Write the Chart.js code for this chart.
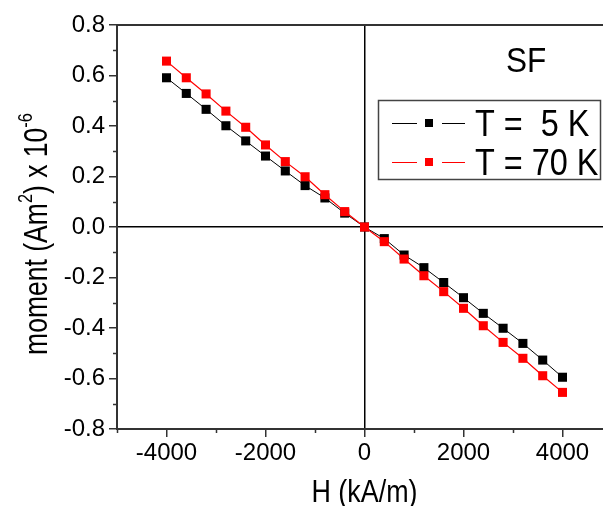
<!DOCTYPE html>
<html>
<head>
<meta charset="utf-8">
<script src="https://cdn.jsdelivr.net/npm/chart.js@4.4.1/dist/chart.umd.min.js"></script>
<style>
  html, body { margin: 0; padding: 0; background: #fff; }
  #wrap { width: 603px; height: 506px; overflow: hidden; }
</style>
</head>
<body>
<div id="wrap"><canvas id="chart" width="630" height="506"></canvas></div>
<script>
// applied field H (kA/m)
const fields = [-4000, -3600, -3200, -2800, -2400, -2000, -1600, -1200, -800, -400, 0,
  400, 800, 1200, 1600, 2000, 2400, 2800, 3200, 3600, 4000];
// moment (Am^2 x 1e-6)
const moment5K = [0.591, 0.529, 0.466, 0.401, 0.341, 0.281, 0.222, 0.164, 0.115, 0.055, 0,
  -0.046, -0.111, -0.161, -0.220, -0.280, -0.342, -0.401, -0.461, -0.527, -0.595];
const moment70K = [0.657, 0.591, 0.527, 0.459, 0.395, 0.325, 0.259, 0.199, 0.128, 0.061, 0,
  -0.058, -0.127, -0.193, -0.256, -0.322, -0.391, -0.457, -0.520, -0.589, -0.655];
const xTicks = [-4000, -2000, 0, 2000, 4000];
const xMinorTicks = [-5000, -3000, -1000, 1000, 3000, 5000];
const yTicks = [-0.8, -0.6, -0.4, -0.2, 0, 0.2, 0.4, 0.6, 0.8];
const yMinorTicks = [-0.7, -0.5, -0.3, -0.1, 0.1, 0.3, 0.5, 0.7];
const legendTexts = ['T =  5 K', 'T = 70 K'];

const FONT = '"Liberation Sans", Arial, sans-serif';
Chart.defaults.font.family = FONT;
Chart.defaults.color = '#000';

function toPoints(ys) {
  return fields.map((x, i) => ({ x: x, y: ys[i] }));
}

// minor ticks, top frame line, titles, legend and label
const decorations = {
  id: 'decorations',
  afterDraw(chart) {
    const ctx = chart.ctx;
    const xs = chart.scales.x, ys = chart.scales.y;
    const area = chart.chartArea;
    ctx.save();
    ctx.strokeStyle = '#333';
    ctx.lineWidth = 1.5;
    ctx.beginPath();
    xMinorTicks.forEach(v => {
      const px = Math.round(xs.getPixelForValue(v)) + 0.5;
      ctx.moveTo(px, area.bottom);
      ctx.lineTo(px, area.bottom + 4);
    });
    yMinorTicks.forEach(v => {
      const py = Math.round(ys.getPixelForValue(v)) + 0.5;
      ctx.moveTo(area.left, py);
      ctx.lineTo(area.left - 4, py);
    });
    ctx.stroke();
    // top frame
    ctx.lineWidth = 2;
    ctx.beginPath();
    ctx.moveTo(area.left, area.top);
    ctx.lineTo(area.right, area.top);
    ctx.lineTo(area.right, area.bottom);
    ctx.stroke();

    ctx.fillStyle = '#000';
    ctx.textBaseline = 'alphabetic';

    // x title
    ctx.save();
    ctx.translate(xs.getPixelForValue(0), 502);
    ctx.scale(0.84, 1);
    ctx.font = '32px ' + FONT;
    ctx.textAlign = 'center';
    ctx.fillText('H (kA/m)', 0, 0);
    ctx.restore();

    // y title with superscripts
    ctx.save();
    ctx.translate(47, 234);
    ctx.rotate(-Math.PI / 2);
    ctx.scale(0.78, 1);
    const big = '34px ' + FONT, small = '21px ' + FONT;
    const parts = [
      ['moment (Am', big, 0], ['2', small, -15], [') x 10', big, 0], ['-6', small, -15]
    ];
    let total = 0;
    parts.forEach(p => { ctx.font = p[1]; total += ctx.measureText(p[0]).width; });
    let cx = -total / 2;
    ctx.textAlign = 'left';
    parts.forEach(p => {
      ctx.font = p[1];
      ctx.fillText(p[0], cx, p[2]);
      cx += ctx.measureText(p[0]).width;
    });
    ctx.restore();

    // SF label
    ctx.save();
    ctx.translate(506, 72);
    ctx.scale(0.9, 1);
    ctx.font = '35px ' + FONT;
    ctx.textAlign = 'left';
    ctx.fillText('SF', 0, 0);
    ctx.restore();

    // legend
    const bx = 378, by = 100, bw = 222, bh = 79;
    ctx.strokeStyle = '#444';
    ctx.lineWidth = 1.5;
    ctx.strokeRect(bx + 0.5, by + 0.5, bw, bh);
    const rowsY = [123, 162];
    chart.data.datasets.forEach((ds, i) => {
      const y = rowsY[i];
      ctx.strokeStyle = ds.borderColor;
      ctx.lineWidth = 1;
      ctx.beginPath();
      ctx.moveTo(392, y + 0.5); ctx.lineTo(417, y + 0.5);
      ctx.moveTo(442, y + 0.5); ctx.lineTo(465, y + 0.5);
      ctx.stroke();
      ctx.fillStyle = ds.pointBackgroundColor;
      ctx.fillRect(425, y - 4, 8, 8);
      ctx.save();
      ctx.translate(475, y + 13);
      ctx.scale(0.9, 1);
      ctx.font = '36px ' + FONT;
      ctx.fillStyle = '#000';
      ctx.textAlign = 'left';
      ctx.fillText(legendTexts[i], 0, 0);
      ctx.restore();
    });
    ctx.restore();
  }
};

new Chart(document.getElementById('chart'), {
  type: 'line',
  data: {
    datasets: [
      {
        label: legendTexts[0],
        data: toPoints(moment5K),
        borderColor: '#000',
        borderWidth: 1,
        pointStyle: 'rect',
        pointRadius: 6.4,
        pointBackgroundColor: '#000',
        pointBorderColor: '#000',
        pointBorderWidth: 0,
        order: 2
      },
      {
        label: legendTexts[1],
        data: toPoints(moment70K),
        borderColor: '#ff0000',
        borderWidth: 1.2,
        pointStyle: 'rect',
        pointRadius: 6.4,
        pointBackgroundColor: '#ff0000',
        pointBorderColor: '#ff0000',
        pointBorderWidth: 0,
        order: 1
      }
    ]
  },
  options: {
    responsive: false,
    animation: false,
    layout: { padding: { top: 25, left: 0, right: 18, bottom: 0 } },
    plugins: { legend: { display: false }, tooltip: { enabled: false } },
    scales: {
      x: {
        type: 'linear',
        min: -5000,
        max: 5000,
        afterBuildTicks: s => { s.ticks = xTicks.map(v => ({ value: v })); },
        afterFit: s => { s.height = 77; },
        ticks: {
          font: { size: 24 },
          padding: 2,
          maxRotation: 0,
          autoSkip: false,
          callback: v => String(v)
        },
        grid: {
          color: c => c.tick && c.tick.value === 0 ? '#000' : 'rgba(0,0,0,0)',
          lineWidth: 1.5,
          tickColor: '#333',
          tickLength: 8,
          tickWidth: 1.5
        },
        border: { color: '#333', width: 2 }
      },
      y: {
        min: -0.8,
        max: 0.8,
        afterBuildTicks: s => { s.ticks = yTicks.map(v => ({ value: v })); },
        afterFit: s => { s.width = 117; },
        ticks: {
          font: { size: 24 },
          padding: 4,
          autoSkip: false,
          callback: v => v.toFixed(1)
        },
        grid: {
          color: c => c.tick && c.tick.value === 0 ? '#000' : 'rgba(0,0,0,0)',
          lineWidth: 1.5,
          tickColor: '#333',
          tickLength: 8,
          tickWidth: 1.5
        },
        border: { color: '#333', width: 2 }
      }
    }
  },
  plugins: [decorations]
});
</script>
</body>
</html>
